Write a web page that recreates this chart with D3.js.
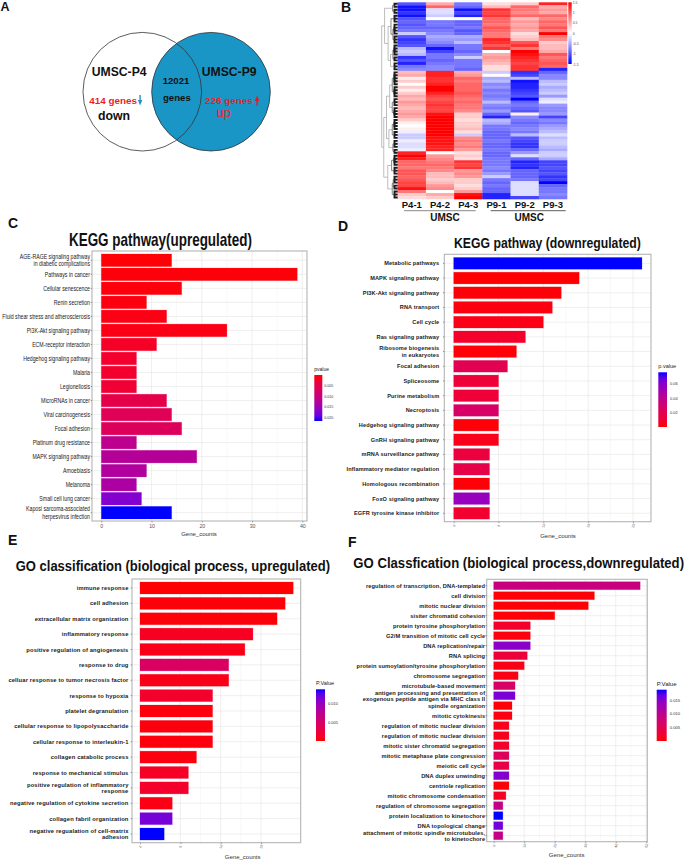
<!DOCTYPE html>
<html>
<head>
<meta charset="utf-8">
<script src="https://cdn.jsdelivr.net/npm/d3@7"></script>
<style>
html, body { margin: 0; padding: 0; background: #fff; }
svg { display: block; font-family: "Liberation Sans", Arial, sans-serif; }
</style>
</head>
<body>
<svg id="figure" width="685" height="861"></svg>
<script>
"use strict";

/** Panel A values */
var vennSets = ["UMSC-P4", "UMSC-P9"];
var vennCommon = ["12021", "genes"];
var vennDown = "414 genes";
var vennUp = "226 genes";

/** Panel B values: one row per gene block, columns follow heatSamples */
var heatSamples = ["P4-1", "P4-2", "P4-3", "P9-1", "P9-2", "P9-3"];
var heatTicks = [-1.5, -1, -0.5, 0, 0.5, 1, 1.5];
var heatTickLabels = ["-1.5", "-1", "-0.5", "0", "0.5", "1", "1.5"];
var heatRows = [
    [-1.0, 0.5, -0.8, 0.2, 0.3, 1.3],
    [-1.4, 0.9, -0.9, 0.4, 0.9, 0.5],
    [-1.4, -0.2, -1.4, 1.2, 0.8, 0.6],
    [-1.2, -0.2, -1.1, 1.1, 0.7, 0.5],
    [-1.4, -0.3, -1.3, 1.2, 0.9, 0.9],
    [-1.0, 0.0, 0.0, 0.9, 0.4, 0.7],
    [-0.9, -0.8, -0.9, 0.9, 0.6, 0.9],
    [-1.0, -0.8, -0.9, 0.8, 0.5, 0.8],
    [-0.9, -0.9, -0.8, 1.0, 0.6, 1.0],
    [-0.8, -0.8, -1.0, 0.9, 0.5, 0.8],
    [-0.3, -0.7, -0.9, 0.8, 0.2, 1.5],
    [-1.0, -0.5, -0.5, 0.8, 0.3, 0.8],
    [-1.2, -0.6, -0.6, 1.3, 0.4, 0.7],
    [-1.1, -0.7, -0.4, 1.2, 1.0, 0.3],
    [-1.0, -0.9, -0.8, 1.0, 1.2, 0.4],
    [-0.4, -1.4, -0.8, 1.2, 0.8, 0.4],
    [-0.3, -1.1, -0.9, 0.0, 1.5, 0.5],
    [-0.4, -0.8, -0.7, 0.5, 1.4, 1.0],
    [-1.2, -0.8, -0.3, 0.6, 1.3, 0.8],
    [-1.0, -0.9, -0.8, 0.5, 1.2, 0.9],
    [-1.3, -0.8, -0.8, 0.4, 1.1, 1.0],
    [-0.8, -0.7, -0.8, 0.2, 1.2, 0.9],
    [-0.7, -0.7, -0.9, 0.2, 1.2, -1.3],
    [0.4, 1.3, 0.5, -0.3, -1.2, -0.9],
    [0.5, 1.3, 0.6, 0.0, -1.1, -0.7],
    [0.1, 1.2, 0.9, -0.5, -0.4, -0.7],
    [0.3, 1.2, 0.8, -0.4, -1.4, -0.4],
    [0.0, 1.3, 0.9, -0.7, -1.3, -0.3],
    [0.3, 1.5, 0.9, -0.6, -1.3, -0.5],
    [0.1, 1.5, 0.9, -0.8, -1.2, -0.4],
    [0.3, 1.3, 1.0, -0.7, -1.1, -0.3],
    [0.5, 1.1, 0.9, -0.8, -1.0, -0.6],
    [0.4, 1.0, 0.8, -0.7, -1.5, -0.2],
    [0.6, 1.1, 0.9, -0.4, -0.9, -0.1],
    [0.5, 1.2, 0.8, -0.7, -0.8, -0.6],
    [0.4, 1.1, 0.8, -0.8, -0.9, -0.7],
    [0.5, 1.1, 0.7, -0.6, -1.0, -0.7],
    [0.6, 1.4, 0.3, -0.9, 0.1, -0.6],
    [0.5, 1.5, 0.3, -1.3, -0.7, -1.1],
    [0.3, 1.5, 0.2, -0.4, -0.8, -0.7],
    [0.1, 1.5, 0.3, -0.5, -0.9, -0.8],
    [0.0, 1.5, 0.3, -0.8, -0.8, -0.6],
    [0.1, 1.5, 0.4, -0.8, -0.7, -0.5],
    [-0.1, 1.5, 0.2, -0.9, -0.8, -0.4],
    [-0.3, 1.5, -0.3, -0.9, -0.4, -0.2],
    [-0.3, 1.4, 0.7, -0.9, -1.0, -0.4],
    [-0.1, 1.4, 0.8, -0.8, -1.1, -0.3],
    [-0.2, 1.4, 0.7, -0.9, -1.2, -0.3],
    [-0.2, 1.3, 0.8, -0.9, -1.2, -0.4],
    [-0.1, 1.3, 0.6, -0.8, -0.9, -0.5],
    [1.3, 0.0, 0.2, -0.9, -0.6, -0.3],
    [1.5, 0.6, 0.3, -0.9, -0.2, -0.3],
    [1.3, 0.7, 0.2, -0.8, -0.9, -0.5],
    [0.9, 0.8, 1.2, -0.8, -1.3, -1.1],
    [0.9, 0.9, 1.1, -0.8, -1.2, -1.1],
    [0.8, 0.8, 1.2, -0.7, -1.3, -1.0],
    [1.0, 0.7, 0.6, -0.8, -0.9, -1.1],
    [1.0, 0.4, 0.7, -0.6, -0.9, -1.0],
    [0.9, 0.4, 0.6, -0.3, -0.9, -1.2],
    [1.0, 0.3, 0.3, -0.8, -0.8, -1.1],
    [1.1, 0.4, 0.3, -0.9, -0.2, -1.5],
    [1.1, 0.6, 0.2, -0.8, -0.2, -0.9],
    [1.4, 0.7, 0.3, -0.9, -0.2, -0.8],
    [0.8, 0.0, 0.6, -0.9, -0.2, -0.8],
    [0.3, 0.5, 1.4, -1.3, -0.2, -0.7],
    [0.2, 0.3, 1.5, -1.3, -1.1, -0.8]
];
/** Row dendrogram: [height, child, child], a bare number is a run of leaf rows */
var heatDendro = [1,
    [0.82,
        [0.32, 2, 2],
        [0.6, [0.42, 3, [0.3, 4, 3]], [0.45, [0.3, 4, 2], 3]]],
    [0.87,
        [0.7,
            [0.5, [0.34, 5, 4], [0.34, 3, 4]],
            [0.55, [0.34, 4, 3], [0.3, 3, 2]]],
        [0.62, [0.38, 4, 3], [0.34, [0.28, 3, 2], 3]]]
];

/** Panel C values */
var keggUpTerms = [
    "AGE-RAGE signaling pathway\nin diabetic complications", "Pathways in cancer", "Cellular senescence",
    "Renin secretion", "Fluid shear stress and atherosclerosis", "PI3K-Akt signaling pathway",
    "ECM-receptor interaction", "Hedgehog signaling pathway", "Malaria", "Legionellosis",
    "MicroRNAs in cancer", "Viral carcinogenesis", "Focal adhesion", "Platinum drug resistance",
    "MAPK signaling pathway", "Amoebiasis", "Melanoma", "Small cell lung cancer",
    "Kaposi sarcoma-associated\nherpesvirus infection"
];
var keggUpCounts = [14, 39, 16, 9, 13, 25, 11, 7, 7, 7, 13, 14, 16, 7, 19, 9, 7, 8, 14];
var keggUpP = [0.0002, 0.0003, 0.0004, 0.0006, 0.0007, 0.0008, 0.002, 0.0025, 0.0025, 0.003,
    0.005, 0.006, 0.0065, 0.0115, 0.0125, 0.013, 0.0135, 0.0175, 0.0219];
var keggUpTicks = [0, 10, 20, 30, 40];
var keggUpLegend = [0.005, 0.01, 0.015, 0.02];

/** Panel D values */
var keggDownTerms = [
    "Metabolic pathways", "MAPK signaling pathway", "PI3K-Akt signaling pathway", "RNA transport", "Cell cycle",
    "Ras signaling pathway", "Ribosome biogenesis\nin eukaryotes", "Focal adhesion", "Spliceosome",
    "Purine metabolism", "Necroptosis", "Hedgehog signaling pathway", "GnRH signaling pathway",
    "mRNA surveillance pathway", "Inflammatory mediator regulation", "Homologous recombination",
    "FoxO signaling pathway", "EGFR tyrosine kinase inhibitor"
];
var keggDownCounts = [21, 14, 12, 11, 10, 8, 7, 6, 5, 5, 5, 5, 5, 4, 4, 4, 4, 4];
var keggDownP = [0.0758, 0.0002, 0.001, 0.002, 0.003, 0.008, 0.001, 0.02, 0.012, 0.012, 0.027, 0.001, 0.004,
    0.013, 0.017, 0.001, 0.055, 0.009];
var keggDownTicks = [0, 5, 10, 15, 20];
var keggDownLegend = [0.02, 0.04, 0.06];

/** Panel E values */
var goUpTerms = [
    "immune response", "cell adhesion", "extracellular matrix organization", "inflammatory response",
    "positive regulation of angiogenesis", "response to drug", "celluar response to tumor necrosis factor",
    "response to hypoxia", "platelet degranulation", "cellular response to lipopolysaccharide",
    "cellular response to interleukin-1", "collagen catabolic process", "response to mechanical stimulus",
    "positive regulation of inflammatory\nresponse", "negative regulation of cytokine secretion",
    "collagen fabril organization", "negative regualation of cell-matrix\nadhesion"
];
var goUpCounts = [19, 18, 17, 14, 13, 11, 11, 9, 9, 9, 9, 7, 6, 6, 4, 4, 3];
var goUpP = [0.0001, 0.0002, 0.0002, 0.001, 0.0006, 0.0045, 0.0006, 0.0015, 0.0003, 0.0003, 0.0003, 0.0003,
    0.0012, 0.0015, 0.0005, 0.0115, 0.0137];
var goUpTicks = [0, 5, 10, 15];
var goUpLegend = [0.005, 0.01];

/** Panel F values */
var goDownTerms = [
    "regulation of transcription, DNA-templated", "cell division", "mitotic nuclear division",
    "sisiter chromatid cohesion", "protein tyrosine phosphorylation", "G2/M transition of mitotic cell cycle",
    "DNA replication/repair", "RNA splicing", "protein sumoylation/tyrosine phosphorylation",
    "chromosome segregation", "microtubule-based movement",
    "antigen processing and presentation of\nexogenous peptide antigen via MHC class II", "spindle organization",
    "mitotic cytokinesis", "regulation of mitotic nuclear division", "regulation of mitotic nuclear division",
    "mitotic sister chromatid segregation", "mitotic metaphase plate congression", "meiotic cell cycle",
    "DNA duplex unwinding", "centriole replication", "mitotic chromosome condensation",
    "regulation of chromosome segregation", "protein localization to kinetochore", "DNA topological change",
    "attachment of mitotic spindle microtubules,\nto kinetochore"
];
var goDownCounts = [48, 33, 31, 20, 12, 12, 12, 11, 10, 8, 7, 7, 6, 6, 5, 5, 5, 5, 5, 5, 5, 4, 3, 3, 3, 3];
var goDownP = [0.0085, 0.0002, 0.0002, 0.0002, 0.002, 0.0004, 0.0145, 0.003, 0.0008, 0.0008, 0.0065, 0.0155,
    0.0002, 0.0005, 0.001, 0.001, 0.002, 0.0055, 0.004, 0.015, 0.0003, 0.0015, 0.009, 0.0187, 0.016, 0.009];
var goDownTicks = [0, 10, 20, 30, 40, 50];
var goDownLegend = [0.005, 0.01, 0.015];

var svg = d3.select("#figure");
var defs = svg.append("defs");
var TEXT_DARK = "#111";

/** Small helper for the plain text labels. */
function addText(parent, str, x, y, size, opts) {
    opts = opts || {};
    var t = parent.append("text")
        .attr("x", x)
        .attr("y", y)
        .attr("font-size", size)
        .attr("font-weight", opts.weight || "normal")
        .attr("text-anchor", opts.anchor || "start")
        .attr("fill", opts.fill || TEXT_DARK)
        .attr("letter-spacing", opts.spacing || null)
        .text(str);
    // the originals are squeezed sideways, so scale rather than pick another font
    var sx = opts.stretch;
    if (opts.width) {
        sx = opts.width / t.node().getComputedTextLength();
    }
    if (sx) {
        t.attr("x", 0).attr("y", 0)
            .attr("transform", "translate(" + x + "," + y + ") scale(" + sx + ",1)");
    }
    return t;
}

function drawPanelLetters() {
    var letters = [["A", 0.5, 11], ["B", 341, 12], ["C", 8, 228], ["D", 338, 231], ["E", 8, 545], ["F", 348, 547]];
    letters.forEach(function(l) {
        addText(svg, l[0], l[1], l[2], l[0] == "A" ? 12.5 : 14, { weight: "bold" });
    });
}

function drawVenn() {
    var g = svg.append("g").attr("class", "venn");
    var r = 59.3, cy = 91.7, cxLeft = 142.3, cxRight = 211;

    g.append("circle").attr("cx", cxLeft).attr("cy", cy).attr("r", r).attr("fill", "#fff");
    g.append("circle").attr("cx", cxRight).attr("cy", cy).attr("r", r).attr("fill", "#1a96c6");
    [cxLeft, cxRight].forEach(function(cx) {
        g.append("circle").attr("cx", cx).attr("cy", cy).attr("r", r)
            .attr("fill", "none").attr("stroke", "#333").attr("stroke-width", 0.8);
    });

    addText(g, vennSets[0], 91.7, 75.5, 12.2, { weight: "bold" });
    addText(g, vennSets[1], 201.7, 75.5, 12.2, { weight: "bold" });
    addText(g, vennCommon[0], 162.7, 83.5, 9.6, { weight: "bold" });
    addText(g, vennCommon[1], 163, 100.7, 9.6, { weight: "bold" });
    addText(g, vennDown, 89.3, 103.5, 9.9, { weight: "bold", fill: "#f01c24" });
    addText(g, vennUp, 205, 103.5, 9.9, { weight: "bold", fill: "#f01c24" });
    addText(g, "down", 98, 119.5, 12.3, { weight: "bold" });
    addText(g, "up", 216.5, 117, 13, { fill: "#f01c24" });

    // little direction arrows
    g.append("path").attr("d", "M139.4 95 h1.4 v5 h1.6 l-2.3 5.5 l-2.3 -5.5 h1.6 z").attr("fill", "#2a94c0");
    g.append("path").attr("d", "M256.4 106 h1.4 v-5 h1.6 l-2.3 -5.5 l-2.3 5.5 h1.6 z").attr("fill", "#d8202a");
}

function drawHeatmap() {
    var g = svg.append("g").attr("class", "heatmap");
    var x = d3.scaleBand().domain(heatSamples).range([397.7, 567]);
    var y = d3.scaleBand().domain(d3.range(heatRows.length)).range([2.3, 199]);
    var color = d3.scaleLinear().domain([-1.5, 0, 1.5]).range(["#0000ff", "#ffffff", "#ff0000"]).clamp(true);

    heatRows.forEach(function(row, i) {
        g.selectAll(null)
            .data(row)
            .enter().append("rect")
            .attr("x", function(d, j) { return x(heatSamples[j]); })
            .attr("y", y(i))
            .attr("width", x.bandwidth() + 0.3)
            .attr("height", y.bandwidth() + 0.3)
            .attr("fill", function(d) { return color(d); });
    });

    // dendrogram, leaf runs are expanded from the bare numbers
    var root = d3.hierarchy(heatDendro, function(d) {
        if (typeof d === "number") {
            return d > 1 ? d3.range(d).map(function() { return 1; }) : null;
        }
        return d.slice(1);
    });
    var heightX = d3.scaleLinear().domain([0, 1]).range([397.7, 381.7]);
    var leafRow = 0;
    root.eachAfter(function(n) {
        if (!n.children) {
            n.py = y(leafRow) + y.bandwidth() / 2;
            n.px = heightX(0);
            leafRow += 1;
        } else {
            n.py = d3.mean(n.children, function(c) { return c.py; });
            n.px = heightX(typeof n.data === "number" ? 0.2 : n.data[0]);
        }
    });
    root.links().forEach(function(l) {
        var leaf = !l.target.children;
        g.append("path")
            .attr("d", "M" + l.source.px + " " + l.source.py + "V" + l.target.py + "H" + l.target.px)
            .attr("fill", "none")
            .attr("stroke", leaf ? "#1a1a1a" : (l.source.px > heightX(0.45) ? "#555" : "#a0a0a0"))
            .attr("stroke-width", leaf ? 1.9 : 0.7);
    });

    // colour key
    var keyScale = d3.scaleLinear().domain([1.5, -1.5]).range([2.3, 64]);
    var grad = defs.append("linearGradient")
        .attr("id", "heatKey").attr("x1", 0).attr("x2", 0).attr("y1", 0).attr("y2", 1);
    [1.5, 0, -1.5].forEach(function(v) {
        grad.append("stop").attr("offset", (1.5 - v) / 3).attr("stop-color", color(v));
    });
    g.append("rect").attr("x", 568.3).attr("y", 2.3).attr("width", 3.4).attr("height", 61.7)
        .attr("fill", "url(#heatKey)");
    var keyAxis = g.append("g")
        .attr("transform", "translate(571.7,0)")
        .call(d3.axisRight(keyScale).tickValues(heatTicks).tickSize(0).tickPadding(1)
            .tickFormat(function(d) { return heatTickLabels[heatTicks.indexOf(d)]; }));
    keyAxis.select(".domain").remove();
    keyAxis.selectAll("text").attr("font-size", 3.4).attr("fill", "#444").attr("font-family", "Liberation Sans");

    heatSamples.forEach(function(s) {
        addText(g, s, x(s) + x.bandwidth() / 2, 207.5, 9.5, { weight: "bold", anchor: "middle" });
    });
    g.append("line").attr("x1", 404).attr("x2", 475.7).attr("y1", 210.7).attr("y2", 210.7)
        .attr("stroke", "#888").attr("stroke-width", 1);
    g.append("line").attr("x1", 490.7).attr("x2", 565.7).attr("y1", 210.7).attr("y2", 210.7)
        .attr("stroke", "#333").attr("stroke-width", 0.8);
    addText(g, "UMSC", 445, 221, 10, { weight: "bold", anchor: "middle" });
    addText(g, "UMSC", 529.3, 221, 10, { weight: "bold", anchor: "middle" });
}

/** Horizontal bar panel shared by C, D, E and F. */
function drawBarPanel(cfg) {
    var g = svg.append("g").attr("class", "bar-panel");
    var p = cfg.panel;
    var x = d3.scaleLinear().domain(cfg.xDomain).range(cfg.xRange);
    var y = d3.scaleBand()
        .domain(d3.range(cfg.terms.length))
        .range(cfg.yRange)
        .paddingInner(cfg.barGap)
        .paddingOuter(cfg.barGap / 2);
    var pColor = d3.scaleLinear()
        .domain([0, cfg.pMax])
        .range(["#ff0000", "#0000ff"])
        .interpolate(d3.interpolateLab);

    addText(g, cfg.title, cfg.titleX, cfg.titleY, cfg.titleSize, { weight: "bold", width: cfg.titleWidth });

    // grid
    var minor = cfg.ticks.slice(0, -1).map(function(t, i) { return (t + cfg.ticks[i + 1]) / 2; });
    g.selectAll(null).data(minor).enter().append("line")
        .attr("x1", function(d) { return x(d); }).attr("x2", function(d) { return x(d); })
        .attr("y1", p.top).attr("y2", p.bottom)
        .attr("stroke", "#f1f1f1").attr("stroke-width", 0.5);
    g.selectAll(null).data(cfg.ticks).enter().append("line")
        .attr("x1", function(d) { return x(d); }).attr("x2", function(d) { return x(d); })
        .attr("y1", p.top).attr("y2", p.bottom)
        .attr("stroke", "#e8e8e8").attr("stroke-width", 0.7);
    g.selectAll(null).data(cfg.terms).enter().append("line")
        .attr("x1", p.left).attr("x2", p.right)
        .attr("y1", function(d, i) { return y(i) + y.bandwidth() / 2; })
        .attr("y2", function(d, i) { return y(i) + y.bandwidth() / 2; })
        .attr("stroke", "#e8e8e8").attr("stroke-width", 0.7);

    // bars
    g.selectAll(null).data(cfg.counts).enter().append("rect")
        .attr("x", x(0))
        .attr("y", function(d, i) { return y(i); })
        .attr("width", function(d) { return x(d) - x(0); })
        .attr("height", y.bandwidth())
        .attr("fill", function(d, i) { return pColor(cfg.pValues[i]); })
        .attr("stroke", function(d, i) { return pColor(cfg.pValues[i]); })
        .attr("stroke-opacity", 0.25)
        .attr("stroke-width", 0.8);

    g.append("rect")
        .attr("x", p.left).attr("y", p.top)
        .attr("width", p.right - p.left).attr("height", p.bottom - p.top)
        .attr("fill", "none").attr("stroke", "#b4b4b4").attr("stroke-width", 1.1);

    // value axis
    var xAxis = g.append("g")
        .attr("transform", "translate(0," + p.bottom + ")")
        .call(d3.axisBottom(x).tickValues(cfg.ticks).tickSize(1.5).tickPadding(1.5));
    xAxis.select(".domain").remove();
    xAxis.selectAll("line").attr("stroke", "#555").attr("stroke-width", 0.5);
    xAxis.selectAll("text")
        .attr("font-size", cfg.tickSize)
        .attr("font-family", "Liberation Sans")
        .attr("fill", "#555");
    if (cfg.tickRotate) {
        xAxis.selectAll("text")
            .attr("dy", null)
            .attr("y", 5)
            .attr("transform", function() {
                return "rotate(" + cfg.tickRotate + " 0 4)";
            });
    }
    addText(g, "Gene_counts", cfg.xLabelX, cfg.xLabelY, 6, { anchor: "middle", fill: "#333" });

    // term labels, "\n" marks a wrapped label
    cfg.terms.forEach(function(term, i) {
        var cy = y(i) + y.bandwidth() / 2;
        var lines = term.split("\n");
        g.append("line")
            .attr("x1", p.left - 1.3).attr("x2", p.left)
            .attr("y1", cy).attr("y2", cy)
            .attr("stroke", "#444").attr("stroke-width", 0.5);
        lines.forEach(function(line, k) {
            var ly = cy + cfg.labelSize * 0.35 + (k - (lines.length - 1) / 2) * cfg.labelLead;
            addText(g, line, p.left - cfg.labelGap, ly, cfg.labelSize, {
                anchor: "end",
                weight: cfg.labelWeight,
                fill: "#1a1a1a",
                spacing: cfg.labelSpacing,
                stretch: cfg.labelStretch
            });
        });
    });

    // p value colour bar
    var lg = cfg.legend;
    var gradId = cfg.id + "Key";
    var grad = defs.append("linearGradient")
        .attr("id", gradId).attr("x1", 0).attr("x2", 0).attr("y1", 0).attr("y2", 1);
    d3.range(0, 1.01, 0.1).forEach(function(f) {
        grad.append("stop").attr("offset", f)
            .attr("stop-color", pColor(cfg.pMax * (lg.reversed ? f : 1 - f)));
    });
    g.append("rect").attr("x", lg.x).attr("y", lg.top)
        .attr("width", lg.width).attr("height", lg.bottom - lg.top)
        .attr("fill", "url(#" + gradId + ")");
    addText(g, cfg.legendTitle, lg.x, lg.titleY, lg.titleSize, { fill: "#222" });
    var keyScale = d3.scaleLinear()
        .domain(lg.reversed ? [0, cfg.pMax] : [cfg.pMax, 0])
        .range([lg.top, lg.bottom]);
    var keyAxis = g.append("g")
        .attr("transform", "translate(" + (lg.x + lg.width) + ",0)")
        .call(d3.axisRight(keyScale).tickValues(cfg.legendTicks).tickSize(0).tickPadding(lg.pad)
            .tickFormat(d3.format(cfg.legendFormat)));
    keyAxis.select(".domain").remove();
    keyAxis.selectAll("text")
        .attr("font-size", lg.labelSize)
        .attr("font-family", "Liberation Sans")
        .attr("fill", "#333");
}

drawPanelLetters();
drawVenn();
drawHeatmap();

drawBarPanel({
    id: "keggUp",
    title: "KEGG pathway(upregulated)", titleX: 69, titleY: 245.7, titleSize: 18, titleWidth: 183,
    terms: keggUpTerms, counts: keggUpCounts, pValues: keggUpP, pMax: 0.0219,
    ticks: keggUpTicks, xDomain: [0, 40], xRange: [101.3, 302.3], tickSize: 5.2,
    panel: { left: 92, right: 307, top: 251, bottom: 521 },
    yRange: [253.3, 519.7], barGap: 0.1,
    labelSize: 6.6, labelLead: 7.2, labelGap: 2, labelWeight: "normal", labelStretch: 0.79,
    xLabelX: 199, xLabelY: 535.7,
    legendTitle: "pvalue", legendTicks: keggUpLegend, legendFormat: ".3f",
    legend: { x: 314.3, width: 8, top: 375, bottom: 421, reversed: true, titleY: 371, titleSize: 5, labelSize: 3.6, pad: 2 }
});

drawBarPanel({
    id: "keggDown",
    title: "KEGG pathway (downregulated)", titleX: 454, titleY: 248.3, titleSize: 15.5, titleWidth: 187,
    terms: keggDownTerms, counts: keggDownCounts, pValues: keggDownP, pMax: 0.0758,
    ticks: keggDownTicks, xDomain: [0, 20], xRange: [453.7, 633], tickSize: 3.6, tickRotate: -75,
    panel: { left: 444.3, right: 651, top: 254.3, bottom: 521.7 },
    yRange: [256, 520.6], barGap: 0.2,
    labelSize: 5.6, labelLead: 6.2, labelGap: 5, labelWeight: "bold", labelSpacing: 0.12,
    xLabelX: 558, xLabelY: 538,
    legendTitle: "p.value", legendTicks: keggDownLegend, legendFormat: ".2f",
    legend: { x: 658.3, width: 8.7, top: 372.3, bottom: 427, titleY: 368, titleSize: 5.5, labelSize: 4, pad: 3 }
});

drawBarPanel({
    id: "goUp",
    title: "GO classification (biological process, upregulated)", titleX: 15.7, titleY: 570.7, titleSize: 15, titleWidth: 314.5,
    terms: goUpTerms, counts: goUpCounts, pValues: goUpP, pMax: 0.0137,
    ticks: goUpTicks, xDomain: [0, 15], xRange: [140, 261], tickSize: 3.6, tickRotate: -75,
    panel: { left: 132, right: 300.7, top: 579, bottom: 842.7 },
    yRange: [580.3, 841.7], barGap: 0.22,
    labelSize: 5.8, labelLead: 6.3, labelGap: 3.5, labelWeight: "bold", labelSpacing: 0.14,
    xLabelX: 242.7, xLabelY: 859,
    legendTitle: "P.Value", legendTicks: goUpLegend, legendFormat: ".3f",
    legend: { x: 316, width: 9, top: 689.3, bottom: 741, titleY: 685, titleSize: 5.5, labelSize: 4, pad: 3 }
});

drawBarPanel({
    id: "goDown",
    title: "GO Classfication (biological process,downregulated)", titleX: 353.3, titleY: 567.7, titleSize: 15, titleWidth: 331,
    terms: goDownTerms, counts: goDownCounts, pValues: goDownP, pMax: 0.0187,
    ticks: goDownTicks, xDomain: [0, 50], xRange: [493.7, 646.3], tickSize: 3.6, tickRotate: -75,
    panel: { left: 486.7, right: 647.3, top: 579.3, bottom: 841.7 },
    yRange: [580.7, 840.7], barGap: 0.2,
    labelSize: 5.7, labelLead: 6.2, labelGap: 1.5, labelWeight: "bold", labelSpacing: 0.1,
    xLabelX: 566.7, xLabelY: 857,
    legendTitle: "P.Value", legendTicks: goDownLegend, legendFormat: ".3f",
    legend: { x: 656.7, width: 10, top: 689.7, bottom: 741, titleY: 685.7, titleSize: 6, labelSize: 4.2, pad: 3 }
});
</script>
</body>
</html>
